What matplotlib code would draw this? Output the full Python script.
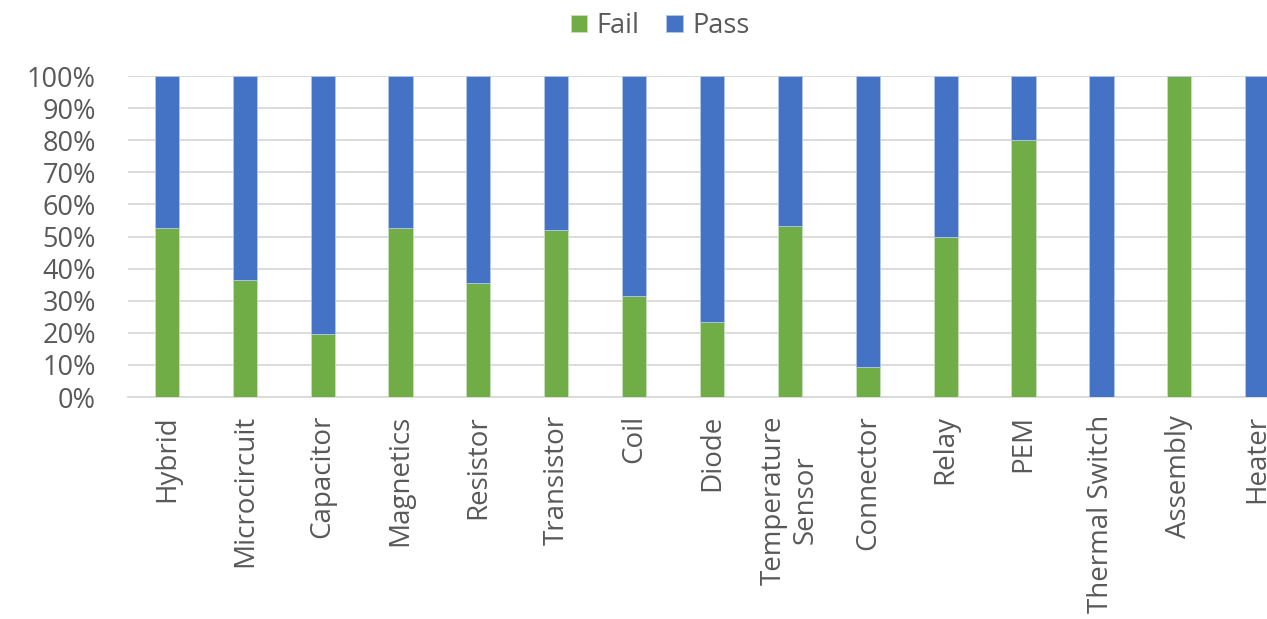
import numpy as np
import matplotlib.pyplot as plt
from matplotlib.ticker import PercentFormatter

categories = ["Hybrid", "Microcircuit", "Capacitor", "Magnetics", "Resistor",
              "Transistor", "Coil", "Diode", "Temperature\nSensor", "Connector",
              "Relay", "PEM", "Thermal Switch", "Assembly", "Heater"]
fail_pct = [52.6, 36.4, 19.5, 52.6, 35.5, 52.0, 31.6, 23.5, 53.4, 9.3,
            50.0, 80.0, 0.0, 100.0, 0.0]
pass_pct = [100 - v for v in fail_pct]

green = "#70AD47"
blue = "#4472C4"
text_color = "#595959"

plt.rcParams['font.family'] = ['Open Sans', 'DejaVu Sans']

fig = plt.figure(figsize=(12.67, 6.19), dpi=100)
# the right edge of the plot is cut off in the reference, so the axes run past the figure
ax = fig.add_axes([0.101, 0.3586, 0.922, 0.5186])

x = np.arange(len(categories))
w = 0.31
ax.bar(x, fail_pct, w, color=green, label="Fail", edgecolor="#c9e0bb", linewidth=0.6, zorder=3)
ax.bar(x, pass_pct, w, bottom=fail_pct, color=blue, label="Pass", edgecolor="#b4c7e7", linewidth=0.6, zorder=3)

ax.set_xlim(-0.5, len(categories) - 0.5)
ax.set_ylim(0, 100)
ax.set_yticks(np.arange(0, 101, 10))
ax.yaxis.set_major_formatter(PercentFormatter(decimals=0))
ax.grid(axis="y", color="#D9D9D9", linewidth=1.3, zorder=0)
for s in ["top", "right", "left"]:
    ax.spines[s].set_visible(False)
ax.spines["bottom"].set_color("#D9D9D9")
ax.spines["bottom"].set_linewidth(1.3)

ax.set_xticks(x)
ax.set_xticklabels(categories, rotation=90, ha="center", va="top",
                   fontsize=20, color=text_color, multialignment="center",
                   linespacing=1.2)
ax.tick_params(axis="x", length=0, pad=13)
ax.tick_params(axis="y", length=0, pad=23, labelsize=19.5, labelcolor=text_color)

handles, labels = ax.get_legend_handles_labels()
fig.legend(handles, labels, loc="upper center", bbox_to_anchor=(0.521, 1.02), ncol=2,
           frameon=False, fontsize=19.5, labelcolor=text_color, handlelength=0.6,
           handleheight=0.6, handletextpad=0.35, columnspacing=1.0)

fig.savefig("out.png", dpi=100)
